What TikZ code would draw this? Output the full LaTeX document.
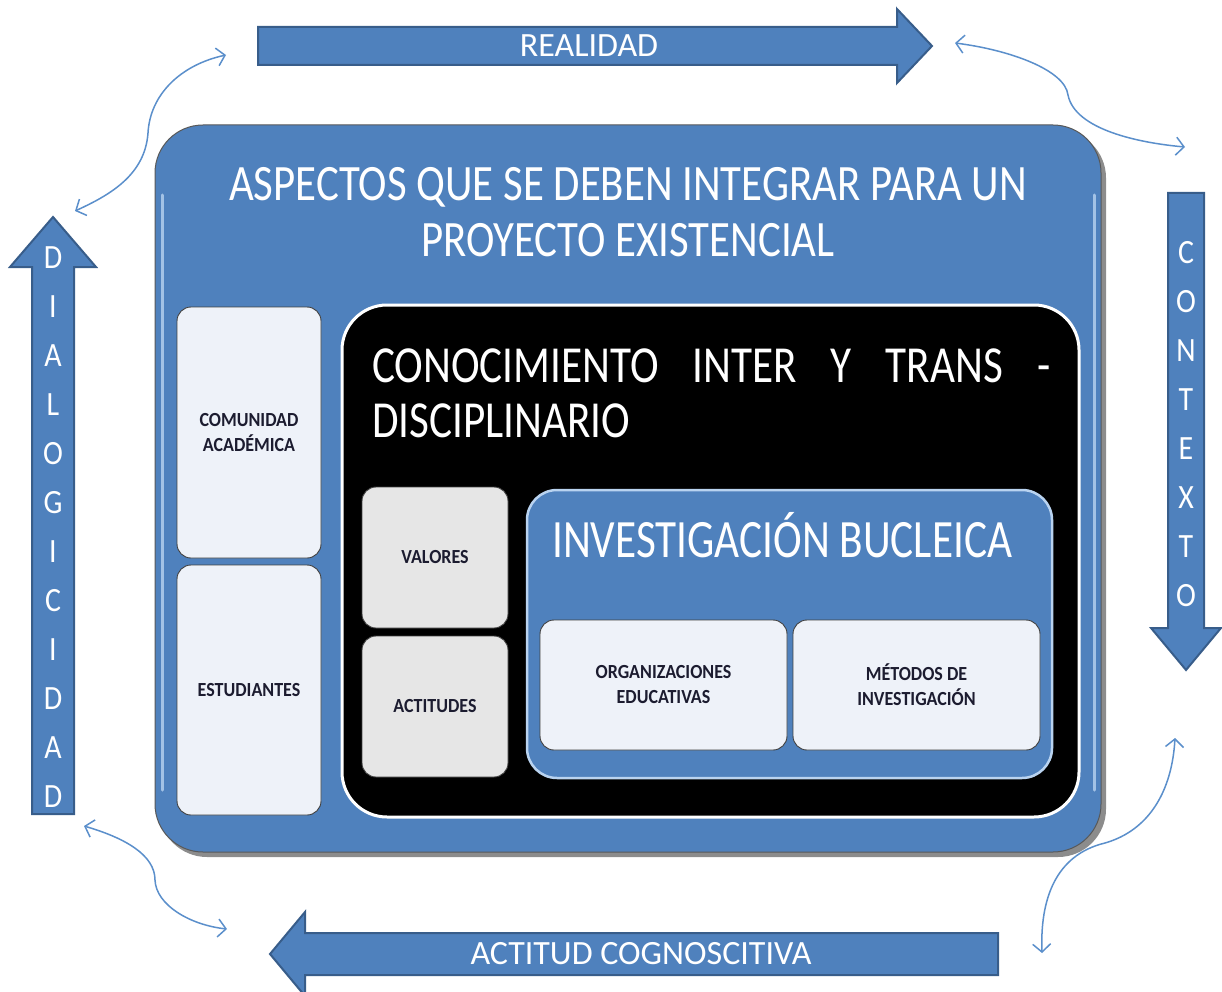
\documentclass[tikz,border=0pt]{standalone}
\usepackage{fontspec}
\setmainfont{Carlito}
\usetikzlibrary{arrows.meta}
\definecolor{blu}{HTML}{4F81BD}
\definecolor{bludark}{HTML}{385D8A}
\definecolor{lightbox}{HTML}{EEF2F9}
\definecolor{graybox}{HTML}{E6E6E6}
\definecolor{curve}{HTML}{5B8FCB}
\definecolor{gloss}{HTML}{B9D3F0}
\definecolor{lbltext}{HTML}{1C1C30}
\begin{document}
\begin{tikzpicture}[x=1pt,y=-1pt,
  blockarrow/.style={fill=blu,draw=bludark,line width=2pt,line join=miter},
  arrowtext/.style={text=white,font=\fontsize{34}{40}\selectfont,inner sep=0pt},
  bigtext/.style={text=white,font=\fontsize{51}{55}\selectfont,inner sep=0pt,xscale=0.84},
  lbl/.style={text=lbltext,font=\fontsize{20}{25}\selectfont\bfseries,align=center,inner sep=0pt},
  panel/.style={rounded corners=14pt,draw=black!75,line width=0.9pt},
  glossline/.style={draw=gloss,line width=3pt,line cap=round,opacity=0.8},
  link/.style={draw=curve,line width=1.5pt,{Straight Barb[length=8pt,width=18pt]}-{Straight Barb[length=8pt,width=18pt]}},
]
\useasboundingbox (0,0) rectangle (1222,992);

% ---------- block arrows ----------
\draw[blockarrow] (258,27) -- (897,27) -- (897,9) -- (932,46) -- (897,83) -- (897,65) -- (258,65) -- cycle;
\node[arrowtext] (realidad) at (589,46) {REALIDAD};

\draw[blockarrow] (1168,193) -- (1204,193) -- (1204,628) -- (1221,628) -- (1186,670) -- (1151,628) -- (1168,628) -- cycle;
\foreach \ch [count=\i from 0] in {C,O,N,T,E,X,T,O}
  \node[arrowtext,xscale=0.88] (ct\i) at (1186,{253+49*\i}) {\ch};

\draw[blockarrow] (32,814) -- (74,814) -- (74,267) -- (96,267) -- (53,217) -- (10,267) -- (32,267) -- cycle;
\foreach \ch [count=\i from 0] in {D,I,A,L,O,G,I,C,I,D,A,D}
  \node[arrowtext,xscale=0.88] (dl\i) at (53,{258+49*\i}) {\ch};

\draw[blockarrow] (998,933) -- (998,975) -- (305,975) -- (305,996) -- (270,954) -- (305,912) -- (305,933) -- cycle;
\node[arrowtext] (actitud) at (641,954) {ACTITUD COGNOSCITIVA};

% ---------- main box ----------
\fill[black!45,rounded corners=48pt] (159,130) rectangle (1106,857);
\node[draw=black!65,line width=1pt,fill=blu,rounded corners=48pt,minimum width=946pt,minimum height=727pt] (main) at (628,488.5) {};
\draw[glossline] (162,195) -- (162,790);
\draw[glossline] (1094,195) -- (1094,790);
\node[bigtext,anchor=base] (t1) at (628,201) {ASPECTOS QUE SE DEBEN INTEGRAR PARA UN};
\node[bigtext,anchor=base] (t2) at (628,256) {PROYECTO EXISTENCIAL};

% left column
\node[panel,fill=lightbox,minimum width=144pt,minimum height=251pt] (comunidad) at (249,432.5) {};
\node[lbl,xscale=0.9] (comunidadt) at (comunidad) {COMUNIDAD\\ACADÉMICA};
\node[panel,fill=lightbox,minimum width=144pt,minimum height=250pt] (estudiantes) at (249,690) {};
\node[lbl,xscale=0.9] (estudiantest) at (estudiantes) {ESTUDIANTES};

% black box
\node[draw=white,line width=3pt,fill=black,rounded corners=45pt,minimum width=737pt,minimum height=512pt] (cono) at (710.5,561) {};
\node[text=white,font=\fontsize{52}{57}\selectfont,inner sep=0pt,xscale=0.83,anchor=base west] (c1) at (372,382) {\makebox[817pt][s]{CONOCIMIENTO INTER Y TRANS -}};
\node[text=white,font=\fontsize{52}{57}\selectfont,inner sep=0pt,xscale=0.83,anchor=base west] (c2) at (372,437) {DISCIPLINARIO};

\node[panel,fill=graybox,minimum width=146pt,minimum height=141pt] (valores) at (435,557.5) {};
\node[lbl,xscale=0.9] (valorest) at (valores) {VALORES};
\node[panel,fill=graybox,minimum width=146pt,minimum height=141pt] (actitudes) at (435,706.5) {};
\node[lbl,xscale=0.9] (actitudest) at (actitudes) {ACTITUDES};

% inner blue box
\node[draw=gloss,line width=2.5pt,fill=blu,rounded corners=30pt,minimum width=525pt,minimum height=288pt] (inv) at (789.5,634) {};
\node[text=white,font=\fontsize{54}{58}\selectfont,inner sep=0pt,xscale=0.80,anchor=base west] (invt) at (552,557) {INVESTIGACIÓN BUCLEICA};

\node[panel,fill=lightbox,minimum width=247pt,minimum height=130pt] (org) at (663.5,685) {};
\node[lbl,xscale=0.9] (orgt) at (org) {ORGANIZACIONES\\EDUCATIVAS};
\node[panel,fill=lightbox,minimum width=247pt,minimum height=130pt] (met) at (916.5,685) {};
\node[lbl,xscale=0.9] (mett) at (met) {MÉTODOS DE\\INVESTIGACIÓN};

% ---------- curved links ----------
\coordinate (a1) at (75,211);
\coordinate (b1) at (226,55);
\coordinate (a2) at (955,43);
\coordinate (b2) at (1185,147);
\coordinate (a3) at (84,826);
\coordinate (b3) at (227,929);
\coordinate (a4) at (1175,738);
\coordinate (b4) at (1042,953);
\draw[link] (a1) .. controls (110,195) and (145,175) .. (148,133) .. controls (150,95) and (180,65) .. (b1);
\draw[link] (a2) .. controls (1010,50) and (1065,70) .. (1068,95) .. controls (1075,130) and (1140,143) .. (b2);
\draw[link] (a3) .. controls (125,838) and (155,855) .. (155,880) .. controls (156,905) and (190,925) .. (b3);
\draw[link] (b4) .. controls (1040,900) and (1055,855) .. (1105,843) .. controls (1150,830) and (1172,790) .. (a4);
\end{tikzpicture}
\end{document}
